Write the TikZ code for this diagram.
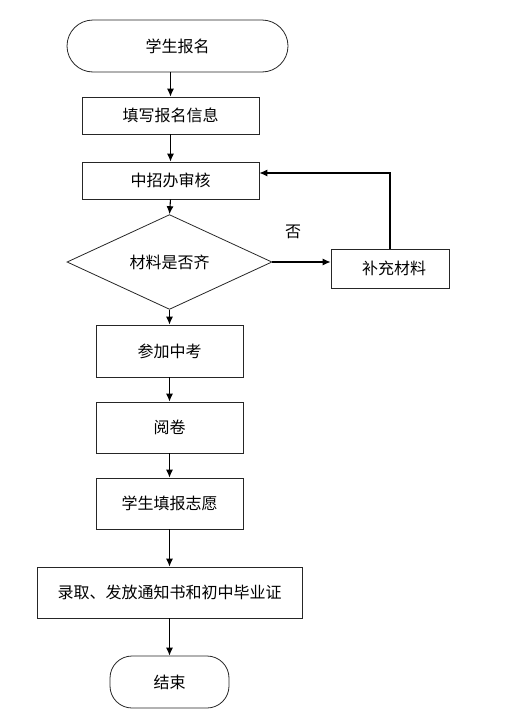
\documentclass[tikz,border=0pt]{standalone}
\usepackage{fontspec}
\setmainfont{Noto Sans CJK SC}
\usetikzlibrary{shapes.geometric,arrows.meta}

\begin{document}
\begin{tikzpicture}[x=1pt,y=-1pt,
		font=\fontsize{16}{19}\selectfont,
		box/.style={draw=black!85,line width=0.8pt,rectangle,inner sep=0pt},
		term/.style={box,rounded corners=#1},
		decision/.style={draw=black!85,line width=0.8pt,diamond,inner sep=0pt},
		flow/.style={line width=1.1pt,-{Latex[length=8pt,width=7pt]}}]
				% Page size
				\useasboundingbox (0,0) rectangle (512,723);
			
				% Draw nodes
				\node[term=26pt,minimum width=221pt,minimum height=52pt] (start) at (177.5,46) {学生报名};
				\node[box,minimum width=177pt,minimum height=37pt] (fill) at (170.5,115.5) {填写报名信息};
				\node[box,minimum width=177pt,minimum height=37pt] (check) at (170.5,180.5) {中招办审核};
				\node[decision,minimum width=205pt,minimum height=76pt] (judge) at (169.5,262) {材料是否齐};
				\node[box,minimum width=118pt,minimum height=39pt] (supply) at (390,268.5) {\hspace{8pt}补充材料};
				\node[box,minimum width=147pt,minimum height=52pt] (exam) at (169.5,351) {参加中考};
				\node[box,minimum width=147pt,minimum height=51pt] (mark) at (169.5,427.5) {阅卷};
				\node[box,minimum width=147pt,minimum height=51pt] (wish) at (169.5,503.5) {学生填报志愿};
				\node[box,minimum width=265pt,minimum height=51pt] (admit) at (169.5,592.5) {录取、发放通知书和初中毕业证};
				\node[term=22pt,minimum width=119pt,minimum height=52pt] (finish) at (169.5,682) {结束};
			
				% Draw arrows
				\draw[flow] (start.south -| fill.north) -- (fill.north);
				\foreach \a/\b in {fill/check,check/judge,judge/exam,exam/mark,mark/wish,wish/admit,admit/finish}
					\draw[flow] (\a.south) -- (\b.north);
			
				% Draw loop back
				\draw[flow] (judge.east) -- (judge.east -| supply.west);
				\node (no) at (293,232) {否};
				\coordinate (turn) at (390,173);
				\draw[flow] (supply.north) -- (turn) -- (turn -| check.east);
			\end{tikzpicture}
\end{document}
